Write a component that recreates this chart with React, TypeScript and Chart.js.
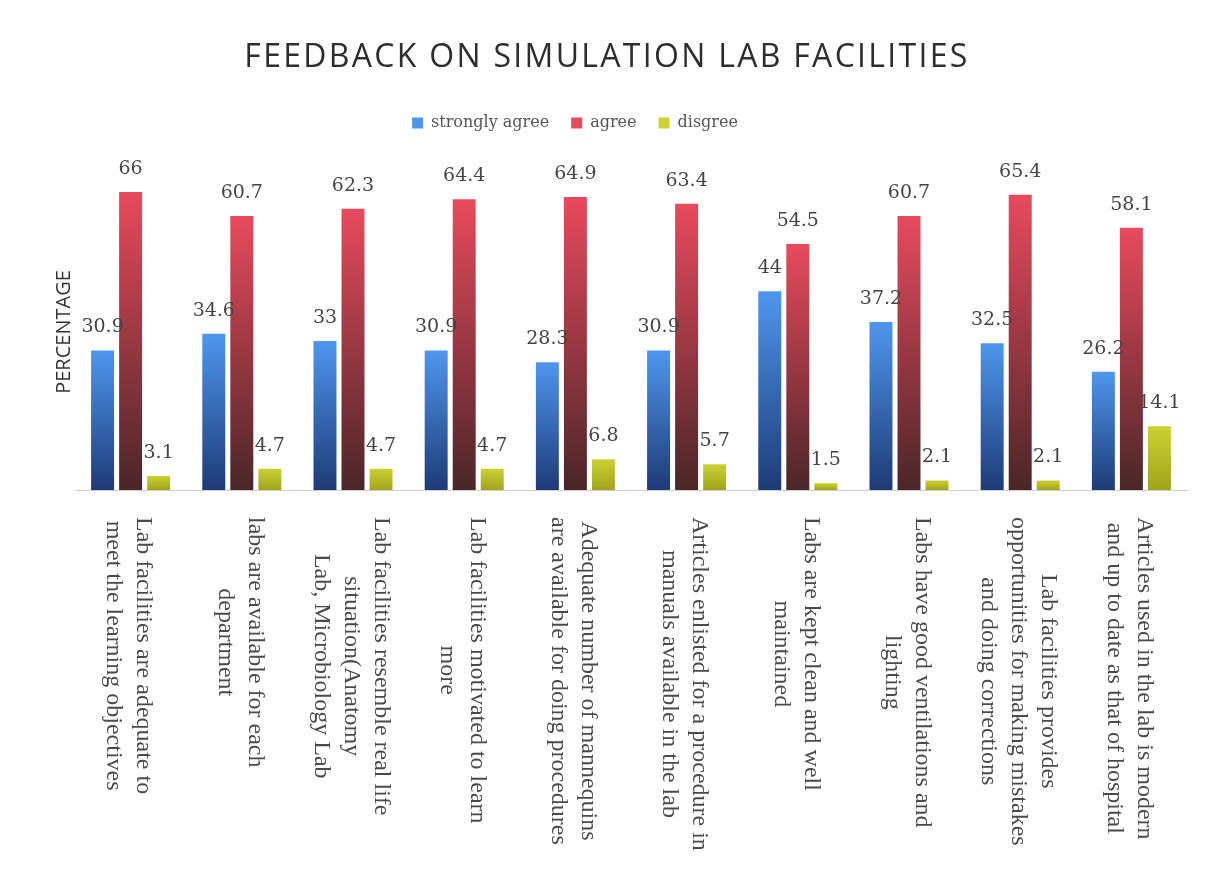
import React, { useEffect, useRef } from "react";
import { Chart, registerables } from "chart.js";

Chart.register(...registerables);

const chartTitle = "FEEDBACK ON SIMULATION LAB FACILITIES";
const yAxisTitle = "PERCENTAGE";

const categories: string[][] = [
  ["Lab facilities are adequate to", "meet the learning objectives"],
  ["labs are available for each", "department"],
  ["Lab facilities resemble real life", "situation(Anatomy", "Lab, Microbiology Lab"],
  ["Lab facilities motivated to learn", "more"],
  ["Adequate number of mannequins", "are available for doing procedures"],
  ["Articles enlisted for a procedure in", "manuals available in the lab"],
  ["Labs are kept clean and well", "maintained"],
  ["Labs have good ventilations and", "lighting"],
  ["Lab facilities provides", "opportunities for making mistakes", "and doing corrections"],
  ["Articles used in the lab is modern", "and up to date as that of hospital"],
];

const seriesNames = ["strongly agree", "agree", "disgree"];
const stronglyAgree = [30.9, 34.6, 33, 30.9, 28.3, 30.9, 44, 37.2, 32.5, 26.2];
const agree = [66, 60.7, 62.3, 64.4, 64.9, 63.4, 54.5, 60.7, 65.4, 58.1];
const disagree = [3.1, 4.7, 4.7, 4.7, 6.8, 5.7, 1.5, 2.1, 2.1, 14.1];

function gradientFill(top: string, bottom: string, legend: string) {
  return (ctx: any) => {
    const chart = ctx.chart;
    const y = chart.scales && chart.scales.y;
    if (!y || ctx.raw === undefined || ctx.raw === null) return legend;
    const yTop = y.getPixelForValue(ctx.raw);
    const yBase = y.getPixelForValue(0);
    if (!isFinite(yTop) || !isFinite(yBase) || Math.abs(yBase - yTop) < 1) return top;
    const g = chart.ctx.createLinearGradient(0, yTop, 0, yBase);
    g.addColorStop(0, top);
    g.addColorStop(1, bottom);
    return g;
  };
}

const decorPlugin = {
  id: "decor",
  afterLayout(chart: any) {
    const lg = chart.legend;
    if (lg) {
      const shift = 575 - (lg.left + lg.right) / 2;
      lg.left += shift;
      lg.right += shift;
    }
  },
  beforeDatasetsDraw(chart: any) {
    const { ctx, chartArea } = chart;
    const y0 = chart.scales.y.getPixelForValue(0);
    ctx.save();
    ctx.strokeStyle = "#cfcfcf";
    ctx.lineWidth = 1;
    ctx.beginPath();
    ctx.moveTo(chartArea.left, Math.round(y0) + 0.5);
    ctx.lineTo(chartArea.right + 1, Math.round(y0) + 0.5);
    ctx.stroke();
    ctx.restore();
  },
  afterDatasetsDraw(chart: any) {
    const { ctx } = chart;
    ctx.save();
    ctx.font = '19px "DejaVu Serif"';
    ctx.fillStyle = "#454545";
    ctx.textAlign = "center";
    ctx.textBaseline = "middle";
    chart.data.datasets.forEach((ds: any, d: number) => {
      const meta = chart.getDatasetMeta(d);
      meta.data.forEach((bar: any, i: number) => {
        ctx.fillText(String(ds.data[i]), bar.x, bar.y - 23);
      });
    });
    ctx.restore();
  },
  afterDraw(chart: any) {
    const { ctx } = chart;
    // title
    ctx.save();
    ctx.font = '32px "Open Sans"';
    ctx.fillStyle = "#2e2e2e";
    ctx.textAlign = "center";
    ctx.textBaseline = "middle";
    try { (ctx as any).letterSpacing = "2.3px"; } catch (e) {}
    ctx.fillText(chartTitle, chart.width / 2 + 1, 58);
    ctx.restore();

    // y axis title
    ctx.save();
    ctx.font = '20px "Open Sans"';
    ctx.fillStyle = "#333333";
    ctx.textAlign = "center";
    ctx.textBaseline = "middle";
    ctx.translate(64, 332);
    ctx.rotate(-Math.PI / 2);
    ctx.fillText(yAxisTitle, 0, 0);
    ctx.restore();

    // category labels, rotated clockwise
    const xs = chart.scales.x;
    ctx.save();
    ctx.font = '24px "Liberation Serif"';
    ctx.fillStyle = "#4a4a4a";
    ctx.textAlign = "center";
    ctx.textBaseline = "middle";
    const lineH = 30;
    categories.forEach((lines, i) => {
      const cx = xs.getPixelForValue(i);
      const W = Math.max(...lines.map((l) => ctx.measureText(l).width));
      ctx.save();
      ctx.translate(cx - 2, 517);
      ctx.rotate(Math.PI / 2);
      lines.forEach((l, j) => {
        ctx.fillText(l, W / 2, (j - (lines.length - 1) / 2) * lineH);
      });
      ctx.restore();
    });
    ctx.restore();
  },
};

export default function App() {
  const canvasRef = useRef<HTMLCanvasElement | null>(null);

  useEffect(() => {
    const canvas = canvasRef.current;
    if (!canvas) return;
    const chart = new Chart(canvas, {
      type: "bar",
      data: {
        labels: categories,
        datasets: [
          {
            label: seriesNames[0],
            data: stronglyAgree,
            backgroundColor: gradientFill("#4f96ee", "#1d3b76", "#3b7ad4"),
            categoryPercentage: 0.756,
            barPercentage: 0.82,
          },
          {
            label: seriesNames[1],
            data: agree,
            backgroundColor: gradientFill("#e84a5c", "#4a2628", "#c23a4c"),
            categoryPercentage: 0.756,
            barPercentage: 0.82,
          },
          {
            label: seriesNames[2],
            data: disagree,
            backgroundColor: gradientFill("#cbd232", "#a0a41c", "#b9c02a"),
            categoryPercentage: 0.756,
            barPercentage: 0.82,
          },
        ],
      },
      options: {
        responsive: false,
        animation: false,
        layout: { padding: { top: 93, left: 75, right: 25, bottom: 388 } },
        scales: {
          x: { display: false, grid: { display: false } },
          y: { display: false, min: 0, max: 77.3 },
        },
        plugins: {
          title: { display: false },
          tooltip: { enabled: false },
          legend: {
            display: true,
            position: "top",
            labels: {
              boxWidth: 11,
              boxHeight: 11,
              padding: 22,
              color: "#555555",
              font: { family: '"DejaVu Serif"', size: 16 },
            },
          },
        },
      },
      plugins: [decorPlugin],
    });
    return () => chart.destroy();
  }, []);

  return (
    <div style={{ position: "absolute", left: 0, top: 0, width: 1212, height: 878, background: "#ffffff" }}>
      <canvas ref={canvasRef} width={1212} height={878} style={{ display: "block" }} />
    </div>
  );
}
